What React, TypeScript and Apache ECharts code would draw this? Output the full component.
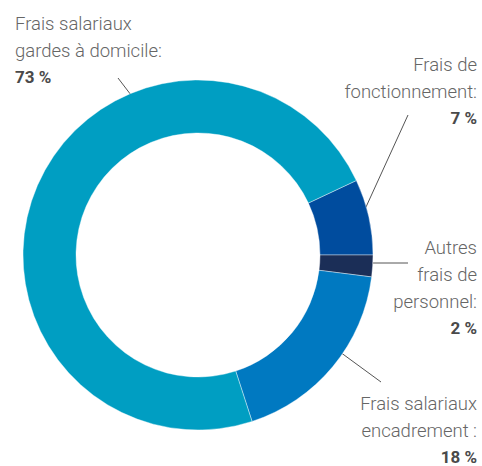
import React, { useEffect, useRef } from "react";
import * as echarts from "echarts";

const categories = [
  "Frais de fonctionnement",
  "Autres frais de personnel",
  "Frais salariaux encadrement",
  "Frais salariaux gardes à domicile",
];
const values = [7, 2, 18, 73];
const labelLines = [
  ["Frais de", "fonctionnement:"],
  ["Autres", "frais de", "personnel:"],
  ["Frais salariaux", "encadrement :"],
  ["Frais salariaux", "gardes à domicile:"],
];
const valueLabels = ["7 %", "2 %", "18 %", "73 %"];
const colors = ["#004C9E", "#1B2E57", "#0079C1", "#009EC2"];

export default function App() {
  const ref = useRef<HTMLDivElement>(null);
  useEffect(() => {
    if (!ref.current) return;
    const chart = echarts.init(ref.current, null, { renderer: "svg" });
    const layouts = [
      { x: 477, y: 51, align: "right", pts: [[366, 207], [408, 115], [408, 115]] },
      { x: 477, y: 234, align: "right", pts: [[373, 263], [408, 263], [408, 263]] },
      { x: 477, y: 390, align: "right", pts: [[340, 352], [381, 382], [381, 382]] },
      { x: 15, y: 10, align: "left", pts: [[131, 95], [118, 78], [118, 78]] },
    ];
    chart.setOption({
      animation: false,
      backgroundColor: "#ffffff",
      series: [
        {
          type: "pie",
          center: [198, 255],
          radius: [122, 175],
          startAngle: 25.2,
          clockwise: true,
          avoidLabelOverlap: false,
          itemStyle: { borderColor: "#ffffff", borderWidth: 0.4 },
          emphasis: { disabled: true },
          data: categories.map((c, i) => ({
            name: c,
            value: values[i],
            itemStyle: { color: colors[i] },
          })),
          label: {
            show: true,
            fontFamily: "Roboto",
            formatter: (p: any) =>
              labelLines[p.dataIndex].map((l) => `{a|${l}}`).join("\n") +
              `\n{b|${valueLabels[p.dataIndex]}}`,
            rich: {
              a: {
                fontFamily: "Roboto",
                fontSize: 18.5,
                fontWeight: 300,
                color: "#666666",
                lineHeight: 27,
              },
              b: {
                fontFamily: "Roboto",
                fontSize: 17,
                fontWeight: "bold",
                color: "#4a4a4a",
                lineHeight: 26,
              },
            },
          },
          labelLine: {
            show: true,
            lineStyle: { color: "#555555", width: 1 },
          },
          labelLayout: (params: any) => {
            const l = layouts[params.dataIndex];
            return {
              x: l.x,
              y: l.y,
              align: l.align,
              verticalAlign: "top",
              labelLinePoints: l.pts,
            };
          },
        },
      ],
    });
    return () => chart.dispose();
  }, []);
  return (
    <div
      ref={ref}
      style={{ position: "fixed", left: 0, top: 0, width: 482, height: 466 }}
    />
  );
}
